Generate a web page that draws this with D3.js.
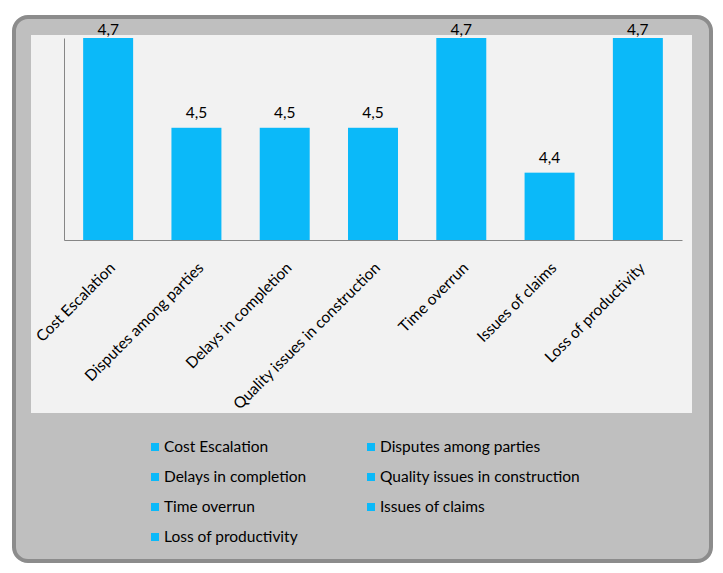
<!DOCTYPE html>
<html>
<head>
<meta charset="utf-8">
<script src="https://cdn.jsdelivr.net/npm/d3@7"></script>
<style>
	body { margin: 0; background: #ffffff; }
	text { font-family: Lato, "Open Sans", sans-serif; fill: #000000; }
</style>
</head>
<body>
<svg id="svg"></svg>
<script>
var categories = ["Cost Escalation",
		  "Disputes among parties",
		  "Delays in completion",
		  "Quality issues in construction",
		  "Time overrun",
		  "Issues of claims",
		  "Loss of productivity"];

var values     = [4.7, 4.5, 4.5, 4.5, 4.7, 4.4, 4.7];

var value_labels = ["4,7", "4,5", "4,5", "4,5", "4,7", "4,4", "4,7"];

var y_domain   = [4.25, 4.7]; // Excel's axis, the labels are hidden

var outer_width  = 723;
var outer_height = 573;
var bar_color    = "#0bb9f9";

var plot = {left: 64, right: 682, top: 38, bottom: 240};

var svg = d3.select("#svg")
	    .attr("width",  outer_width)
	    .attr("height", outer_height);

// frame: dark rounded border, grey fill, light chart panel
svg.append("rect")
	.attr("x", 14)
	.attr("y", 17)
	.attr("width",  697)
	.attr("height", 544)
	.attr("rx", 14)
	.attr("fill", "#bfbfbf")
	.attr("stroke", "#8c8c8c")
	.attr("stroke-width", 4);

svg.append("rect")
	.attr("x", 31)
	.attr("y", 35)
	.attr("width",  661)
	.attr("height", 378)
	.attr("fill", "#f2f2f2");

var x = d3.scaleBand()
	    .domain(categories)
	    .range([plot.left, plot.right])
	    .paddingInner(0.434)
	    .paddingOuter(0.217);

var y = d3.scaleLinear()
	    .domain(y_domain)
	    .range([plot.bottom, plot.top]);

var data = categories.map(function(c, i) {
	return {name: c, value: values[i], label: value_labels[i]};
});

var Chart = svg.append("g");

Chart.selectAll(".bar")
	.data(data)
	.enter()
	.append("rect")
	.attr("class", "bar")
	.attr("x", function(h) { return x(h.name); })
	.attr("y", function(h) { return y(h.value); })
	.attr("width", x.bandwidth())
	.attr("height", function(h) { return y(y_domain[0]) - y(h.value); })
	.attr("fill", bar_color);

// axes: plain grey lines, no ticks
var x_axis = d3.axisBottom(x).tickSize(0).tickFormat("");
var y_axis = d3.axisLeft(y).tickValues([]).tickSize(0);

Chart.append("g")
	.attr("transform", "translate(0," + plot.bottom + ")")
	.call(x_axis)
	.select(".domain")
	.attr("stroke", "#868686");

Chart.append("g")
	.attr("transform", "translate(" + plot.left + ",0)")
	.call(y_axis)
	.select(".domain")
	.attr("stroke", "#868686");

// labels above bars, tall ones pushed down a bit like Excel does
Chart.selectAll(".vlabel")
	.data(data)
	.enter()
	.append("text")
	.attr("class", "vlabel")
	.attr("x", function(h) { return x(h.name) + x.bandwidth() / 2; })
	.attr("y", function(h) { return Math.max(y(h.value) - 10, 35); })
	.attr("text-anchor", "middle")
	.style("font-size", "15.5px")
	.text(function(h) { return h.label; });

Chart.selectAll(".xlabel")
	.data(categories)
	.enter()
	.append("text")
	.attr("class", "xlabel")
	.attr("transform", function(c) {
		return "translate(" + (x(c) + x.bandwidth() / 2 + 8) + ",269) rotate(-45)";
	})
	.attr("text-anchor", "end")
	.style("font-size", "15.5px")
	.text(function(c) { return c; });

// legend, two columns
var Legend = svg.append("g");

var item = Legend.selectAll(".item")
	    .data(categories)
	    .enter()
	    .append("g")
	    .attr("class", "item")
	    .attr("transform", function(c, i) {
		    var lx = (i % 2 == 0) ? 151 : 367;
		    var ly = 447 + Math.floor(i / 2) * 30;
		    return "translate(" + lx + "," + ly + ")";
	    });

item.append("rect")
	.attr("x", 0)
	.attr("y", -4)
	.attr("width", 8)
	.attr("height", 8)
	.attr("fill", bar_color);

item.append("text")
	.attr("x", 13)
	.attr("y", 0)
	.attr("dy", "0.35em")
	.style("font-size", "15.5px")
	.text(function(c) { return c; });
</script>
</body>
</html>
